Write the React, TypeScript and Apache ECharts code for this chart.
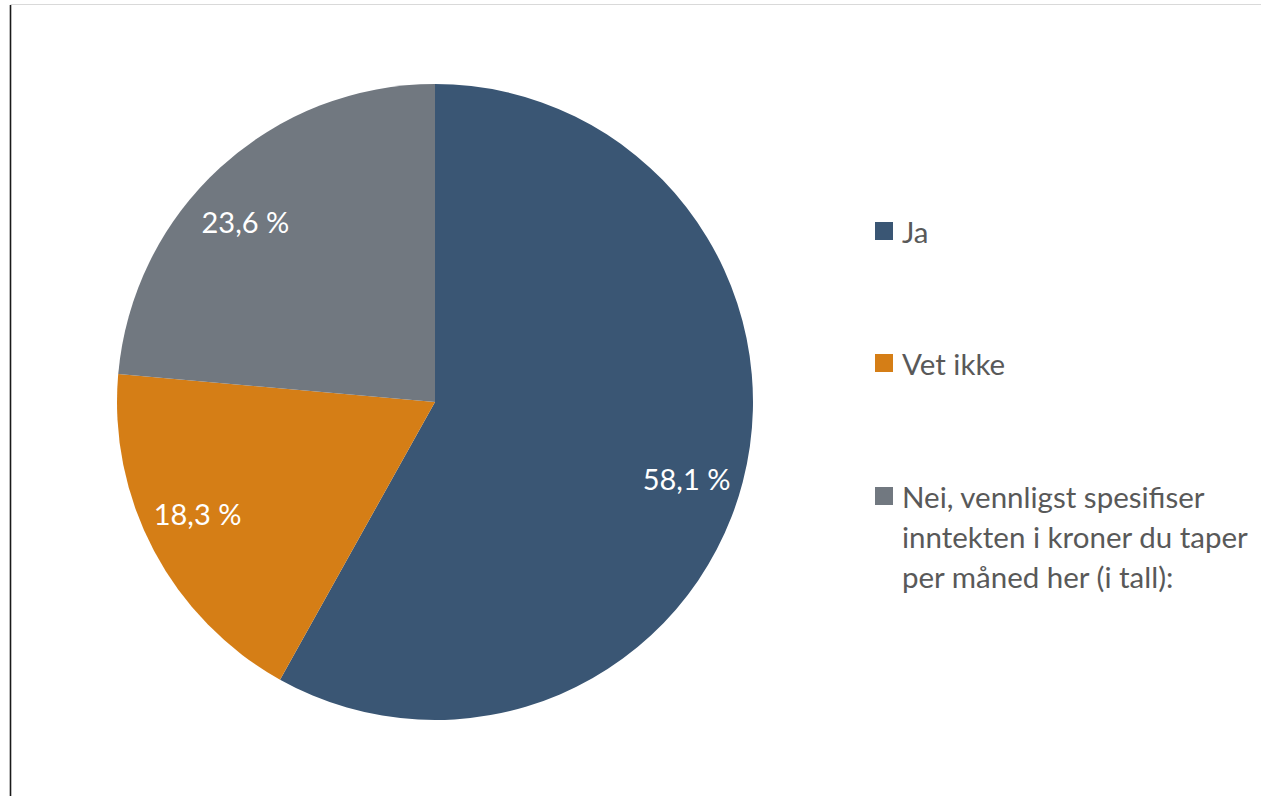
import React, { useEffect, useRef } from "react";
import * as echarts from "echarts";

const categories = ["Ja", "Vet ikke", "Nei, vennligst spesifiser inntekten i kroner du taper per måned her (i tall):"];
const values = [58.1, 18.3, 23.6];
const colors = ["#3A5674", "#D57E16", "#717880"];
const labelOffsets = [[-3, 10], [-5, -12], [-12, 13]];
const legendLines: Record<string, string> = {
  [categories[2]]: "\n\nNei, vennligst spesifiser\ninntekten i kroner du taper\nper måned her (i tall):",
};

const fmt = (v: number) => v.toFixed(1).replace(".", ",") + " %";

export default function App() {
  const ref = useRef<HTMLDivElement>(null);
  useEffect(() => {
    if (!ref.current) return;
    const chart = echarts.init(ref.current, null, { renderer: "svg" });
    const data = categories.map((name, i) => ({ name, value: values[i], itemStyle: { color: colors[i] } }));
    const legendTops = [211, 343, 396];
    const legends = categories.map((name, i) => ({
      orient: "vertical",
      left: 875,
      top: legendTops[i],
      padding: 0,
      itemWidth: 18,
      itemHeight: 18,
      icon: "rect",
      selectedMode: false,
      data: [name],
      formatter: (n: string) => legendLines[n] ?? n,
      textStyle: { fontFamily: "Lato", fontSize: 29.5, color: "#595959", lineHeight: 40, padding: [0, 0, 0, 4] },
    }));
    chart.setOption({
      animation: false,
      backgroundColor: "#ffffff",
      legend: legends,
      graphic: [
        { type: "line", shape: { x1: 10.5, y1: 4.5, x2: 1261, y2: 4.5 }, style: { stroke: "#d9d9d9", lineWidth: 1 } },
        { type: "line", shape: { x1: 10.5, y1: 5, x2: 10.5, y2: 796 }, style: { stroke: "#1a1a1a", lineWidth: 1.6 } },
      ],
      series: [
        {
          type: "pie",
          center: [435, 402],
          radius: [0, 318],
          startAngle: 90,
          clockwise: true,
          data,
          label: { show: false },
          labelLine: { show: false },
          emphasis: { disabled: true },
        },
        {
          type: "pie",
          center: [435, 402],
          radius: [202, 318],
          startAngle: 90,
          clockwise: true,
          silent: true,
          data: categories.map((name, i) => ({ name, value: values[i], label: { offset: labelOffsets[i] } })),
          itemStyle: { color: "rgba(0,0,0,0)" },
          label: {
            show: true,
            position: "inside",
            formatter: (p: any) => fmt(p.value),
            color: "#ffffff",
            fontFamily: "Lato",
            fontSize: 29,
          },
          labelLine: { show: false },
          emphasis: { disabled: true },
        },
      ],
    });
    return () => chart.dispose();
  }, []);
  return <div ref={ref} style={{ position: "fixed", left: 0, top: 0, width: 1261, height: 796 }} />;
}
